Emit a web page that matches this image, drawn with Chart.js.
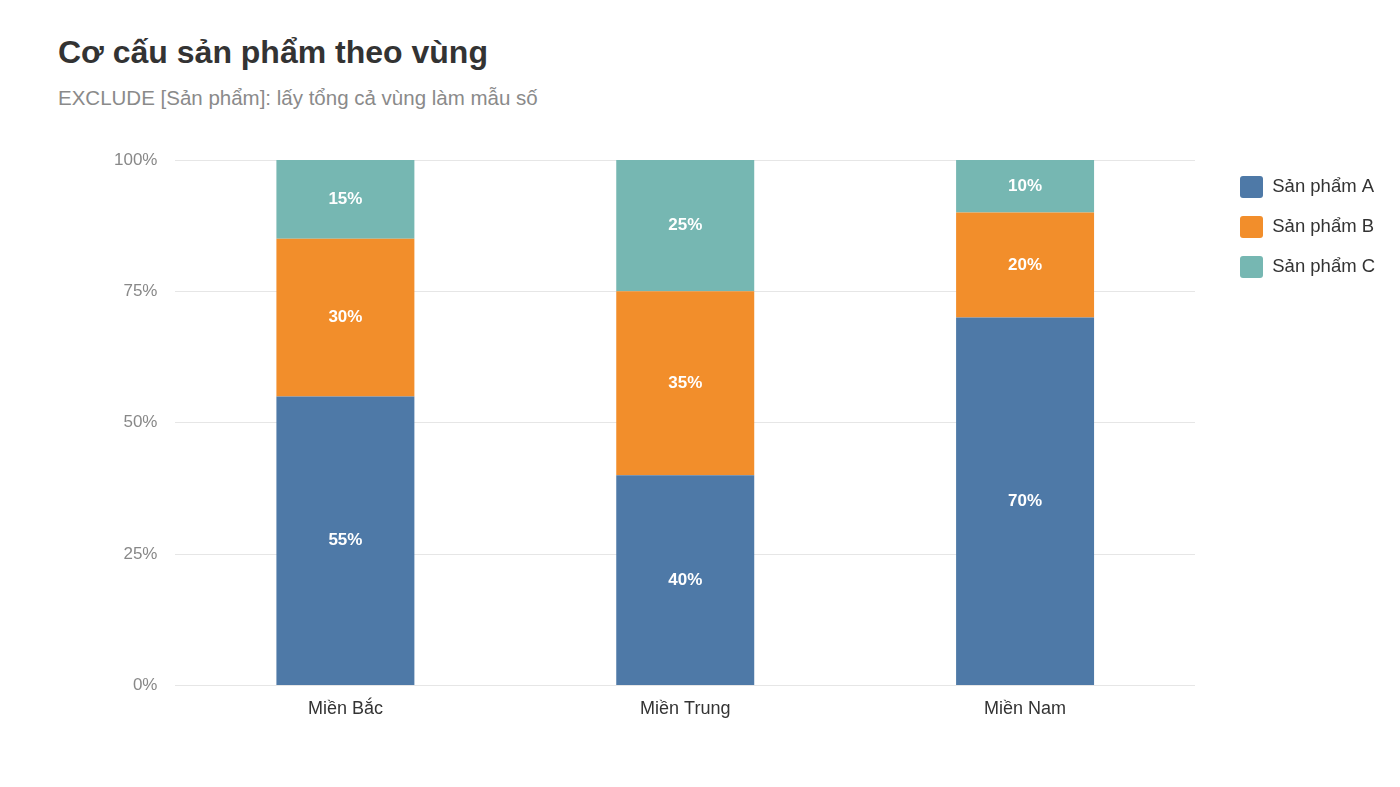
<!DOCTYPE html>
<html>
<head>
<meta charset="utf-8">
<script src="https://cdn.jsdelivr.net/npm/chart.js@4"></script>
<style>
  html, body { margin: 0; padding: 0; background: #fff; }
  body { width: 1400px; height: 787px; position: relative; overflow: hidden; font-family: "Liberation Sans", Arial, sans-serif; }
  #title { position: absolute; left: 58px; top: 34px; font-size: 32px; font-weight: bold; color: #333; }
  #subtitle { position: absolute; left: 58px; top: 86px; font-size: 20.5px; color: #8a8a8a; }
  #wrap { position: absolute; left: 0; top: 0; width: 1400px; height: 787px; }
</style>
</head>
<body>
<div id="title">Cơ cấu sản phẩm theo vùng</div>
<div id="subtitle">EXCLUDE [Sản phẩm]: lấy tổng cả vùng làm mẫu số</div>
<div id="wrap"><canvas id="canvas"></canvas></div>
<script>
const regions = ['Miền Bắc', 'Miền Trung', 'Miền Nam']
const productA = [55, 40, 70]
const productB = [30, 35, 20]
const productC = [15, 25, 10]
const yTicks = [0, 25, 50, 75, 100]

const FONT = '"Liberation Sans", Arial, sans-serif'

// ghi % giữa mỗi đoạn cột
const barLabels = {
  id: 'barLabels',
  afterDatasetsDraw(chart) {
    const ctx = chart.ctx
    ctx.save()
    ctx.fillStyle = '#fff'
    ctx.font = 'bold 17px ' + FONT
    ctx.textAlign = 'center'
    ctx.textBaseline = 'middle'
    chart.data.datasets.forEach((ds, i) => {
      chart.getDatasetMeta(i).data.forEach((bar, j) => {
        const mid = (bar.y + bar.base) / 2
        ctx.fillText(ds.data[j] + '%', bar.x, mid)
      })
    })
    ctx.restore()
  }
}

// chừa khoảng trống giữa vùng vẽ và chú thích
const legendGap = {
  id: 'legendGap',
  afterInit(chart) {
    const lg = chart.legend
    const fit = lg.fit.bind(lg)
    lg.fit = function () { fit(); this.width = 1400 - 10 - 1195 }
  },
  afterLayout(chart) {
    const lg = chart.legend
    lg.left += 27
    lg.right += 27
    lg.top -= 2
    lg.bottom -= 2
  }
}

const data = {
  labels: regions,
  datasets: [
    { label: 'Sản phẩm A', data: productA, backgroundColor: '#4E79A7' },
    { label: 'Sản phẩm B', data: productB, backgroundColor: '#F28E2B' },
    { label: 'Sản phẩm C', data: productC, backgroundColor: '#76B7B2' },
  ],
}

const config = {
  type: 'bar',
  data: data,
  options: {
    responsive: true,
    maintainAspectRatio: false,
    animation: false,
    categoryPercentage: 1,
    barPercentage: 0.406,
    layout: { padding: { top: 160, bottom: 62, left: 96, right: 10 } },
    plugins: {
      legend: {
        position: 'right',
        align: 'start',
        labels: {
          boxWidth: 23,
          boxHeight: 22,
          useBorderRadius: true,
          borderRadius: 3,
          padding: 18,
          color: '#333',
          font: { size: 18.5, family: FONT },
        },
      },
      tooltip: { enabled: false },
    },
    scales: {
      x: {
        stacked: true,
        grid: { display: false },
        border: { display: false },
        ticks: { color: '#333', padding: 5, font: { size: 18, family: FONT } },
      },
      y: {
        stacked: true,
        min: 0,
        max: 100,
        afterBuildTicks: (axis) => { axis.ticks = yTicks.map(v => ({ value: v })) },
        grid: { color: '#e6e6e6', drawTicks: false },
        border: { display: false },
        ticks: {
          color: '#888',
          padding: 18,
          font: { size: 17, family: FONT },
          callback: (v) => v + '%',
        },
      },
    },
  },
  plugins: [barLabels, legendGap],
}

const canvas = document.getElementById('canvas')
const chart = new Chart(canvas, config)
</script>
</body>
</html>
